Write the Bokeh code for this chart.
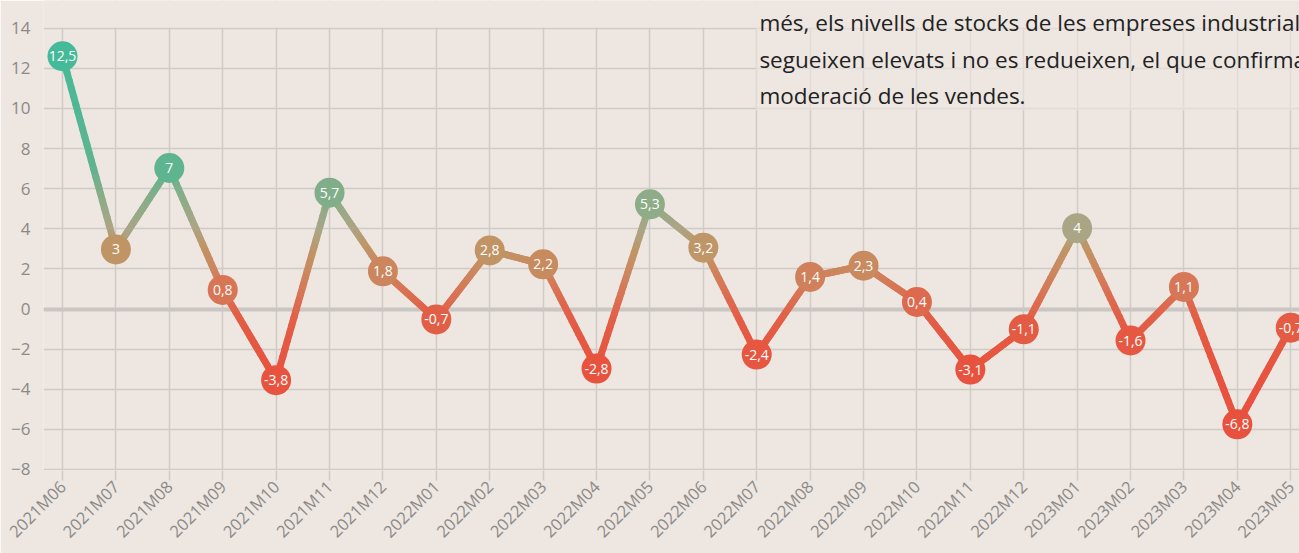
import numpy as np
from bokeh.plotting import figure
from bokeh.models import ColumnDataSource, FixedTicker, Range1d, BoxAnnotation, Label
from bokeh.core.properties import value
from bokeh.embed import file_html
from bokeh.resources import INLINE

# ---- data ----
months = ["2021M06", "2021M07", "2021M08", "2021M09", "2021M10", "2021M11", "2021M12",
          "2022M01", "2022M02", "2022M03", "2022M04", "2022M05", "2022M06", "2022M07",
          "2022M08", "2022M09", "2022M10", "2022M11", "2022M12", "2023M01", "2023M02",
          "2023M03", "2023M04", "2023M05"]
# plotted positions
values = [12.6, 2.97, 7.03, 0.95, -3.55, 5.8, 1.88, -0.52, 2.92, 2.23, -2.97, 5.22,
          3.06, -2.27, 1.6, 2.16, 0.35, -3.02, -1.01, 4.03, -1.57, 1.1, -5.75, -0.93]
# point labels as printed on the chart
labels = ["12,5", "3", "7", "0,8", "-3,8", "5,7", "1,8", "-0,7", "2,8", "2,2", "-2,8", "5,3",
          "3,2", "-2,4", "1,4", "2,3", "0,4", "-3,1", "-1,1", "4", "-1,6", "1,1", "-6,8", "-0,7"]
y_ticks = [-8, -6, -4, -2, 0, 2, 4, 6, 8, 10, 12, 14]
note_lines = ["més, els nivells de stocks de les empreses industrials",
              "segueixen elevats i no es redueixen, el que confirma la",
              "moderació de les vendes."]

# ---- styling ----
BG = "#EDE6E1"
GRID = "#D0CBC7"
TICK_TXT = "#8C8A88"
FONT = "Open Sans"

stops = [(-8, "#E8503D"), (-3, "#E8533F"), (-1, "#E45B44"), (0, "#E0644A"), (1, "#D77656"),
         (2, "#CB885F"), (3, "#BF9565"), (4, "#AAA585"), (5.5, "#88AD88"), (7, "#5EB48F"),
         (12.5, "#45BA98"), (16, "#42BB9A")]


def hex2rgb(h):
    return np.array([int(h[1:3], 16), int(h[3:5], 16), int(h[5:7], 16)], dtype=float)


def color_at(v):
    sv = [s[0] for s in stops]
    rgbs = [hex2rgb(s[1]) for s in stops]
    v = min(max(v, sv[0]), sv[-1])
    for i in range(len(sv) - 1):
        if sv[i] <= v <= sv[i + 1]:
            t = (v - sv[i]) / (sv[i + 1] - sv[i])
            c = rgbs[i] * (1 - t) + rgbs[i + 1] * t
            return "#%02x%02x%02x" % tuple(int(round(x)) for x in c)
    return stops[-1][1]


xs = list(range(len(months)))

p = figure(width=1299, height=553, output_backend="svg", toolbar_location=None,
           x_range=Range1d(-0.356, 23.164), y_range=Range1d(-8.05, 15.38),
           min_border_left=43, min_border_right=0, min_border_top=0, min_border_bottom=83)
p.background_fill_color = BG
p.border_fill_color = BG
p.outline_line_color = None

# grid
p.xgrid.ticker = FixedTicker(ticks=xs)
p.ygrid.ticker = FixedTicker(ticks=y_ticks)
for g in (p.xgrid, p.ygrid):
    g.grid_line_color = GRID
    g.grid_line_width = 1.5

# axes
p.xaxis.ticker = FixedTicker(ticks=xs)
p.xaxis.major_label_overrides = {i: m for i, m in enumerate(months)}
p.xaxis.major_label_orientation = np.pi / 4
p.xaxis.axis_line_color = None
p.xaxis.major_tick_line_color = GRID
p.xaxis.major_tick_line_width = 1.5
p.xaxis.major_tick_out = 10
p.xaxis.major_tick_in = 0
p.xaxis.minor_tick_line_color = None
p.xaxis.major_label_text_font = FONT
p.xaxis.major_label_text_font_size = "16.5px"
p.xaxis.major_label_text_color = TICK_TXT
p.xaxis.major_label_standoff = 3

p.yaxis.ticker = FixedTicker(ticks=y_ticks)
p.yaxis.axis_line_color = None
p.yaxis.major_tick_line_color = None
p.yaxis.major_tick_out = 0
p.yaxis.major_tick_in = 0
p.yaxis.minor_tick_line_color = None
p.yaxis.major_label_text_font = FONT
p.yaxis.major_label_text_font_size = "17px"
p.yaxis.major_label_text_color = TICK_TXT
p.yaxis.major_label_standoff = 13

# blank strip above the top gridline (grid lines stop at 14)
p.add_layout(BoxAnnotation(bottom=14.04, fill_color=BG, fill_alpha=1.0, line_color=None,
                           level="underlay"))

# zero line
p.hspan(y=[0], line_color="#C9C6C3", line_width=4)

# gradient line: split each segment into small pieces coloured by height
n = 24
sx0, sy0, sx1, sy1, sc = [], [], [], [], []
for i in range(len(values) - 1):
    xa, ya, xb, yb = xs[i], values[i], xs[i + 1], values[i + 1]
    for k in range(n):
        t0, t1 = k / n, (k + 1) / n
        sx0.append(xa + (xb - xa) * t0)
        sy0.append(ya + (yb - ya) * t0)
        sx1.append(xa + (xb - xa) * t1)
        sy1.append(ya + (yb - ya) * t1)
        sc.append(color_at(ya + (yb - ya) * (t0 + t1) / 2))
p.segment(x0=sx0, y0=sy0, x1=sx1, y1=sy1, line_color=sc, line_width=7, line_cap="round")

src = ColumnDataSource(dict(x=xs, y=values, lab=labels, col=[color_at(v) for v in values]))
p.scatter("x", "y", source=src, size=30, fill_color="col", line_color=None)
p.text("x", "y", text="lab", source=src, text_color="white", text_align="center",
       text_baseline="middle", text_font=value(FONT), text_font_size="14px")

# faded overlay behind the article text
p.add_layout(BoxAnnotation(left=12.98, bottom=9.9, fill_color=BG, fill_alpha=0.6,
                           line_color=None))
for j, line in enumerate(note_lines):
    p.add_layout(Label(x=13.05, y=14.28 - j * 1.82, text=line, text_font=FONT,
                       text_font_size="22.5px", text_color="#222222", text_baseline="middle",
                       text_align="left"))

open("out.html", "w").write(file_html(p, INLINE))
